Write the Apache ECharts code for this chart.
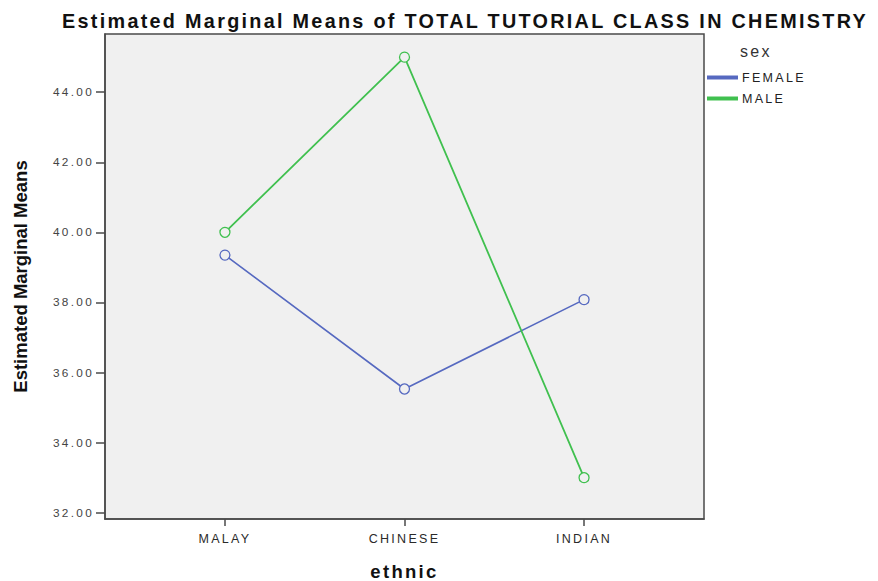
<!DOCTYPE html>
<html>
<head>
<meta charset="utf-8">
<script src="https://cdn.jsdelivr.net/npm/echarts@6/dist/echarts.min.js"></script>
<style>
html,body{margin:0;padding:0;background:#fff}
#c{width:878px;height:581px}
#c svg text{letter-spacing:2.3px}
#c svg text[style*="Helvetica"]{letter-spacing:0}
</style>
</head>
<body>
<div id="c"></div>
<script>
const categories = ['MALAY', 'CHINESE', 'INDIAN'];
const femaleValues = [39.35, 35.53, 38.08];
const maleValues = [40.0, 45.0, 33.0];
const yTicks = [32, 34, 36, 38, 40, 42, 44];
const seriesNames = ['FEMALE', 'MALE'];

const chart = echarts.init(document.getElementById('c'), null, {renderer: 'svg'});
const xIdx = categories.map((_, i) => i);
const toPts = vals => vals.map((v, i) => [i, v]);
const colors = ['#5669c0', '#40c04f'];
const FONT = 'Liberation Sans, Arial';

chart.setOption({
  animation: false,
  backgroundColor: '#ffffff',
  title: {
    text: 'Estimated Marginal Means of TOTAL TUTORIAL CLASS IN CHEMISTRY',
    left: 465, top: 11, textAlign: 'center', padding: 0,
    textStyle: {fontFamily: FONT, fontWeight: 'bold', fontSize: 19.8, color: '#111'}
  },
  legend: {
    orient: 'vertical', left: 707, top: 71, padding: 0,
    icon: 'rect', itemWidth: 29, itemHeight: 2, itemGap: 8,
    data: seriesNames,
    textStyle: {fontFamily: FONT, fontSize: 12.5, color: '#222'}
  },
  graphic: [{
    type: 'text', left: 740, top: 43,
    style: {text: 'sex', fontFamily: FONT, fontSize: 16, fill: '#333'}
  }],
  grid: {
    left: 105, right: 174, top: 34, bottom: 62,
    outerBoundsMode: 'none', containLabel: false,
    show: true, backgroundColor: '#f0f0f0', borderColor: '#4a4a4a', borderWidth: 1.5
  },
  xAxis: {
    type: 'value', min: -0.668, max: 2.668,
    name: 'ethnic', nameLocation: 'middle', nameGap: 43,
    nameTextStyle: {fontFamily: FONT, fontWeight: 'bold', fontSize: 18.5, color: '#111', verticalAlign: 'top'},
    axisLine: {show: true, onZero: false, lineStyle: {color: '#4a4a4a', width: 1.5}},
    axisTick: {show: true, customValues: xIdx, length: 7, lineStyle: {color: '#4a4a4a', width: 1.5}},
    axisLabel: {customValues: xIdx, margin: 13, formatter: v => categories[Math.round(v)],
      fontFamily: FONT, fontSize: 12.5, color: '#2a2a2a'},
    splitLine: {show: false}
  },
  yAxis: {
    type: 'value', min: 31.82, max: 45.66,
    name: 'Estimated Marginal Means', nameLocation: 'middle', nameGap: 75,
    nameTextStyle: {fontFamily: 'Liberation Sans, Helvetica', fontWeight: 'bold', fontSize: 18.5, color: '#111'},
    axisLine: {show: true, onZero: false, lineStyle: {color: '#4a4a4a', width: 1.5}},
    axisTick: {show: true, customValues: yTicks, length: 9, lineStyle: {color: '#4a4a4a', width: 1.5}},
    axisLabel: {customValues: yTicks, margin: 11, formatter: v => v.toFixed(2),
      fontFamily: FONT, fontSize: 11.8, color: '#444'},
    splitLine: {show: false}
  },
  series: [
    {name: seriesNames[0], type: 'line', data: toPts(femaleValues), color: colors[0],
     symbol: 'circle', symbolSize: 10, itemStyle: {color: '#f0f0f0', borderColor: colors[0], borderWidth: 1.3},
     lineStyle: {width: 1.6, color: colors[0]}},
    {name: seriesNames[1], type: 'line', data: toPts(maleValues), color: colors[1],
     symbol: 'circle', symbolSize: 10, itemStyle: {color: '#f0f0f0', borderColor: colors[1], borderWidth: 1.3},
     lineStyle: {width: 1.8, color: colors[1]}}
  ]
});
</script>
</body>
</html>
